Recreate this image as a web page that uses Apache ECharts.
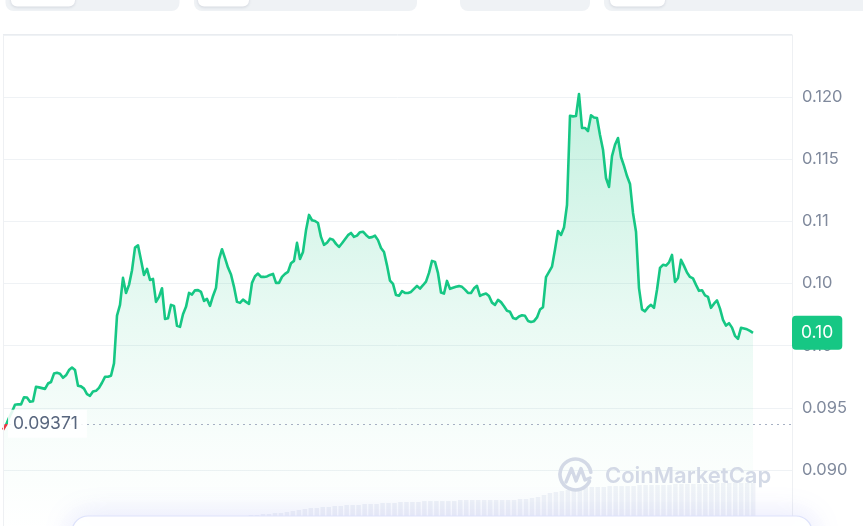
<!DOCTYPE html>
<html><head><meta charset="utf-8">
<script src="https://cdn.jsdelivr.net/npm/echarts@6/dist/echarts.min.js"></script>
<style>html,body{margin:0;padding:0;background:#fff;overflow:hidden;width:863px;height:526px}#c{width:863px;height:532px;}</style>
</head><body><div id="c"></div>
<script>
// ---- data ----
const prices = [
0.09323,0.09362,0.09419,0.09467,0.09524,0.09528,0.09527,0.09585,0.09582,0.09548,
0.09553,0.09669,0.09664,0.09658,0.09652,0.09695,0.09707,0.09775,0.09781,0.09773,
0.09741,0.09761,0.09803,0.09823,0.09803,0.09677,0.09672,0.09654,0.09610,0.09596,
0.09630,0.09636,0.09660,0.09701,0.09749,0.09749,0.09757,0.09857,0.10242,0.10328,
0.10545,0.10424,0.10489,0.10607,0.10789,0.10807,0.10690,0.10569,0.10617,0.10529,
0.10537,0.10352,0.10392,0.10462,0.10215,0.10221,0.10328,0.10320,0.10159,0.10151,
0.10252,0.10312,0.10424,0.10411,0.10445,0.10447,0.10432,0.10360,0.10376,0.10320,
0.10400,0.10465,0.10694,0.10776,0.10704,0.10628,0.10572,0.10473,0.10352,0.10344,
0.10370,0.10352,0.10336,0.10505,0.10558,0.10580,0.10553,0.10553,0.10557,0.10569,
0.10577,0.10505,0.10505,0.10553,0.10577,0.10593,0.10663,0.10682,0.10827,0.10698,
0.10754,0.10928,0.11052,0.11009,0.11003,0.10987,0.10875,0.10811,0.10828,0.10861,
0.10852,0.10819,0.10794,0.10824,0.10856,0.10889,0.10907,0.10875,0.10885,0.10913,
0.10917,0.10891,0.10869,0.10873,0.10885,0.10849,0.10786,0.10754,0.10646,0.10523,
0.10497,0.10407,0.10402,0.10438,0.10424,0.10424,0.10432,0.10457,0.10481,0.10459,
0.10486,0.10515,0.10585,0.10682,0.10674,0.10583,0.10428,0.10419,0.10521,0.10457,
0.10466,0.10474,0.10479,0.10473,0.10451,0.10424,0.10424,0.10461,0.10481,0.10400,
0.10412,0.10420,0.10400,0.10346,0.10328,0.10368,0.10350,0.10317,0.10280,0.10272,
0.10223,0.10215,0.10235,0.10245,0.10240,0.10199,0.10191,0.10197,0.10227,0.10290,
0.10309,0.10551,0.10593,0.10636,0.10774,0.10923,0.10891,0.10951,0.11132,0.11850,
0.11845,0.11848,0.12025,0.11752,0.11752,0.11727,0.11854,0.11836,0.11832,0.11695,
0.11577,0.11349,0.11277,0.11525,0.11617,0.11671,0.11518,0.11446,0.11365,0.11301,
0.11068,0.10917,0.10463,0.10292,0.10276,0.10308,0.10328,0.10304,0.10450,0.10625,
0.10650,0.10644,0.10670,0.10730,0.10513,0.10545,0.10690,0.10642,0.10588,0.10553,
0.10541,0.10489,0.10441,0.10446,0.10404,0.10392,0.10304,0.10338,0.10364,0.10298,
0.10207,0.10161,0.10181,0.10145,0.10079,0.10055,0.10143,0.10138,0.10131,0.10119,
0.10103
];
const baselinePrice = 0.09371;
const totalSlots = 264;           // time slots on the x axis (data fills the first part)
const yTickValues = [0.090, 0.095, 0.100, 0.105, 0.110, 0.115, 0.120];
const yTickLabels = ['0.090', '0.095', '0.10', '0.10', '0.11', '0.115', '0.120'];
const volumeSlots = 132;
const volumes = [
0,0,0,0,0,0,0,0,0,0,0,0,0,0,0,0,0,0,0,0,0,0,0,0,0,0,0,0,0,0,0,0,0,0,0,0,0,0,0,0,0,
11,11,12,12,
13,13,14,15,16,17,
18,18,19,19,20,20,21,21,
21,22,22,22,23,23,23,24,24,
24,24,25,25,25,25,25,25,26,26,26,26,26,26,26,26,26,26,27,27,
28,29,31,33,34,
35,36,37,38,39,39,
39,39,40,40,40,40,40,41,41,41,41,41,41,42,42,42,42,42,42,42,43,43,43,43,43,43,43
];

const categories = [];
for (let i = 0; i < totalSlots; i++) categories.push(String(i));
const volCats = [];
for (let i = 0; i < volumeSlots; i++) volCats.push(String(i));
const lastPrice = prices[prices.length - 1];

const chart = echarts.init(document.getElementById('c'), null, {renderer: 'canvas'});
const FONT = 'Inter, "Noto Sans", sans-serif';

chart.setOption({
  animation: false,
  backgroundColor: '#ffffff',
  grid: [
    {left: 3, right: 71, top: 35, bottom: 0},
    {left: 3, right: 71, top: 440, bottom: 6}
  ],
  xAxis: [
    {type: 'category', gridIndex: 0, data: categories, boundaryGap: false, show: false},
    {type: 'category', gridIndex: 1, data: volCats, boundaryGap: true, show: false}
  ],
  yAxis: [
    {type: 'value', gridIndex: 0, position: 'right', min: 0.085, max: 0.125, interval: 0.005,
     axisLine: {show: true, lineStyle: {color: '#eef0f3', width: 1}},
     axisTick: {show: false},
     splitLine: {show: true, lineStyle: {color: '#eff2f5', width: 1}},
     axisLabel: {color: '#808a9d', fontSize: 16.5, fontFamily: FONT, margin: 10,
       formatter: function (v) {
         const i = yTickValues.findIndex(t => Math.abs(t - v) < 1e-9);
         return i >= 0 ? yTickLabels[i] : '';
       }}
    },
    {type: 'value', gridIndex: 1, min: 0, max: 86, show: false}
  ],
  visualMap: {
    show: false, seriesIndex: 0, dimension: 1,
    pieces: [
      {gt: 0, lt: baselinePrice, color: '#ea3943'},
      {gte: baselinePrice, lte: 1, color: '#16c784'}
    ]
  },
  series: [
    {
      type: 'line', xAxisIndex: 0, yAxisIndex: 0, data: prices,
      symbol: 'none', smooth: false, z: 3,
      lineStyle: {width: 2.6, join: 'round'},
      areaStyle: {
        color: new echarts.graphic.LinearGradient(0, 0, 0, 1, [
          {offset: 0, color: 'rgba(22,199,132,0.36)'},
          {offset: 0.5, color: 'rgba(22,199,132,0.14)'},
          {offset: 0.8, color: 'rgba(22,199,132,0.04)'},
          {offset: 1, color: 'rgba(22,199,132,0)'}
        ])
      },
      markLine: {
        silent: true, symbol: ['none', 'none'], animation: false, precision: 6,
        data: [
          {yAxis: baselinePrice, lineStyle: {type: [2, 4], color: '#a6b0c3', width: 1}, label: {show: false}},
          {yAxis: lastPrice, lineStyle: {color: 'rgba(0,0,0,0)', width: 1},
           label: {show: true, position: 'end', distance: 0,
             formatter: lastPrice.toFixed(2),
             color: '#ffffff', fontSize: 17.5, fontFamily: FONT,
             backgroundColor: '#16c784', borderRadius: 4, padding: [8, 9, 8, 9]}}
        ]
      }
    },
    {
      type: 'bar', xAxisIndex: 1, yAxisIndex: 1, data: volumes, z: 1,
      barCategoryGap: '25%', silent: true,
      itemStyle: {color: 'rgba(200,207,226,0.25)'}
    }
  ]
});

const py = chart.convertToPixel({yAxisIndex: 0}, baselinePrice);
const WM = '#d3d9e6';
chart.setOption({
  graphic: [
    {type: 'rect', z: 50, shape: {x: 5.5, y: -20, width: 174, height: 31, r: 8}, style: {fill: '#eff2f5'}},
    {type: 'rect', z: 51, shape: {x: 11, y: -20, width: 64, height: 26.5, r: 6}, style: {fill: '#fff', shadowBlur: 3, shadowOffsetY: 1, shadowColor: 'rgba(88,102,126,0.2)'}},
    {type: 'rect', z: 50, shape: {x: 194, y: -20, width: 223, height: 31, r: 8}, style: {fill: '#eff2f5'}},
    {type: 'rect', z: 51, shape: {x: 198, y: -20, width: 51, height: 26.5, r: 6}, style: {fill: '#fff', shadowBlur: 3, shadowOffsetY: 1, shadowColor: 'rgba(88,102,126,0.2)'}},
    {type: 'rect', z: 50, shape: {x: 460, y: -20, width: 130, height: 31, r: 8}, style: {fill: '#eff2f5'}},
    {type: 'rect', z: 50, shape: {x: 604, y: -20, width: 270, height: 31, r: 8}, style: {fill: '#eff2f5'}},
    {type: 'rect', z: 51, shape: {x: 610, y: -20, width: 55, height: 26.5, r: 6}, style: {fill: '#fff', shadowBlur: 3, shadowOffsetY: 1, shadowColor: 'rgba(88,102,126,0.2)'}},
    {type: 'line', z: 50, shape: {x1: 3.5, y1: 34, x2: 3.5, y2: 532}, style: {stroke: '#eef0f3', lineWidth: 1}},
    {type: 'line', z: 50, shape: {x1: 3, y1: 34.5, x2: 792, y2: 34.5}, style: {stroke: '#e9ecf0', lineWidth: 1}},
    {type: 'text', z: 60, x: 8, y: py, style: {text: '0.09371', font: '17.5px ' + FONT, fill: '#58667e',
      verticalAlign: 'middle', backgroundColor: 'rgba(255,255,255,0.88)', padding: [5, 9, 5, 5]}},
    {type: 'arc', z: 40, shape: {cx: 575.5, cy: 474.5, r: 15.5, startAngle: 0.45, endAngle: Math.PI * 2 - 0.15, clockwise: true},
      style: {stroke: WM, lineWidth: 3.6, fill: null, lineCap: 'round'}},
    {type: 'polyline', z: 40, shape: {points: [[566, 482], [571.5, 468.5], [576, 481], [581, 468.5], [585, 480], [590, 478]]},
      style: {stroke: WM, lineWidth: 3.4, fill: null, lineJoin: 'round', lineCap: 'round'}},
    {type: 'text', z: 40, x: 605, y: 476, style: {text: 'CoinMarketCap', font: '600 22px ' + FONT, fill: WM, verticalAlign: 'middle'}},
    {type: 'rect', z: 70, shape: {x: 72, y: 516, width: 740, height: 40, r: 16},
      style: {fill: '#ffffff', stroke: '#dde2fb', lineWidth: 1.2, shadowBlur: 30, shadowColor: 'rgba(120,130,240,0.2)'}}
  ]
});
</script>
</body></html>
